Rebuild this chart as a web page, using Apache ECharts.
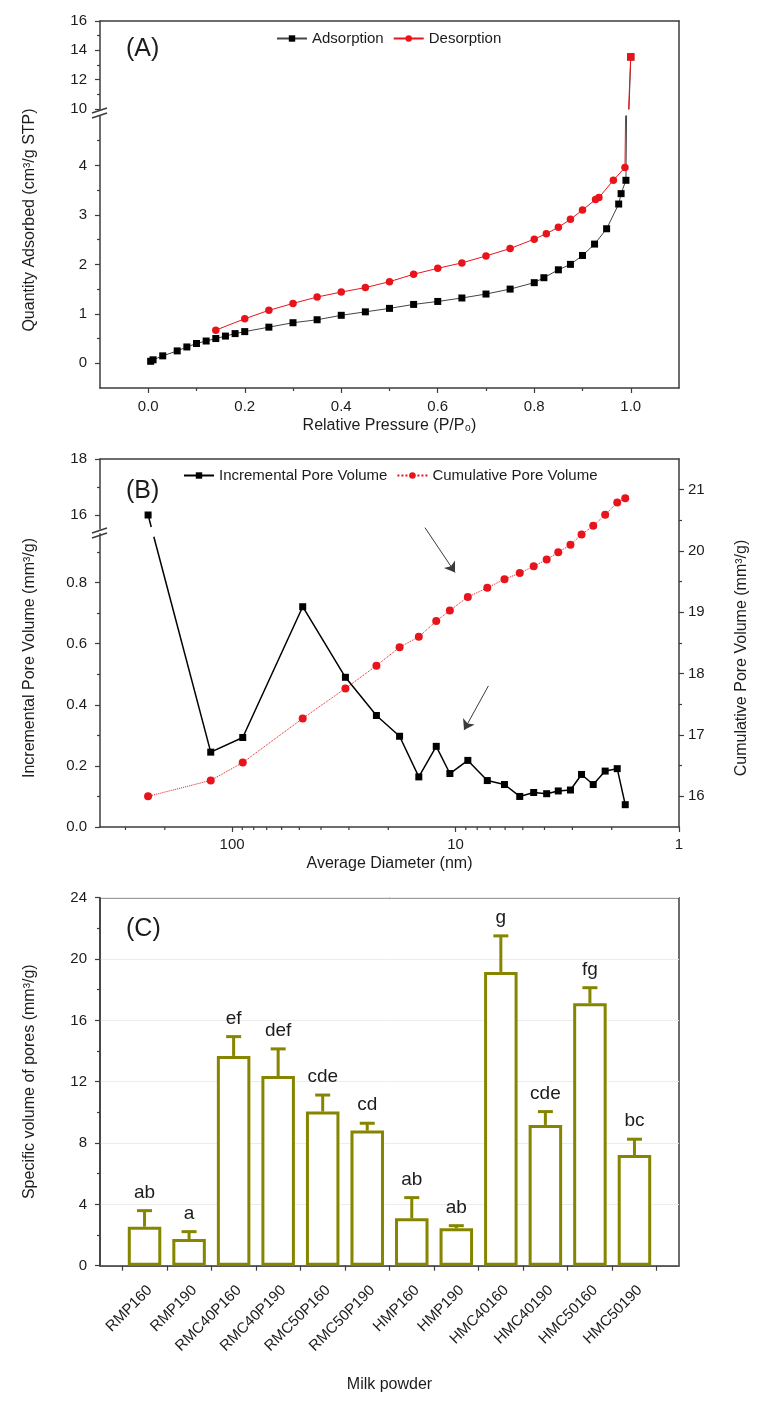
<!DOCTYPE html>
<html><head><meta charset="utf-8">
<script src="https://cdn.jsdelivr.net/npm/echarts@6/dist/echarts.min.js"></script>
<style>html,body{margin:0;padding:0;background:#fff}#c{width:759px;height:1401px}</style>
</head><body><div id="c"></div><script>
// ---------- Panel A data ----------
const adsP = [0.005,0.01,0.03,0.06,0.08,0.10,0.12,0.14,0.16,0.18,0.20,0.25,0.30,0.35,0.40,0.45,0.50,0.55,0.60,0.65,0.70,0.75,0.80,0.82,0.85,0.875,0.90,0.925,0.95,0.975,0.98,0.99,1.0];
const adsQ = [0.04,0.07,0.15,0.25,0.33,0.40,0.45,0.50,0.55,0.60,0.64,0.73,0.82,0.88,0.97,1.04,1.11,1.19,1.25,1.32,1.40,1.50,1.63,1.73,1.89,2.00,2.18,2.41,2.72,3.22,3.43,3.70,13.55];
const desP = [1.0,0.988,0.964,0.934,0.927,0.90,0.875,0.85,0.825,0.80,0.75,0.70,0.65,0.60,0.55,0.50,0.45,0.40,0.35,0.30,0.25,0.20,0.14];
const desQ = [13.55,3.96,3.70,3.35,3.31,3.10,2.91,2.75,2.62,2.51,2.32,2.17,2.03,1.92,1.80,1.65,1.53,1.44,1.34,1.21,1.07,0.90,0.67];
const aXLabels = [0,0.2,0.4,0.6,0.8,1.0];
const aXMinor = [0.1,0.3,0.5,0.7,0.9];
const aYLowLabels = [0,1,2,3,4];
const aYLowMinor = [0.5,1.5,2.5,3.5,4.5];

// ---------- Panel B data ----------
const diam = [237.6,124.6,89.6,48.3,31.1,22.6,17.8,14.6,12.2,10.6,8.81,7.21,6.04,5.16,4.47,3.91,3.47,3.06,2.73,2.42,2.14,1.89,1.74];
const incr = [16.0,0.245,0.293,0.721,0.490,0.365,0.297,0.164,0.264,0.175,0.218,0.152,0.139,0.100,0.113,0.109,0.118,0.121,0.172,0.139,0.183,0.191,0.073];
const cum  = [16.0,16.26,16.55,17.27,17.76,18.13,18.43,18.60,18.86,19.03,19.25,19.40,19.54,19.64,19.75,19.86,19.98,20.10,20.27,20.41,20.59,20.79,20.86];
const bYUpLabels = [16,18];
const bYUpMinor = [17];
const bYLowLabels = [0,0.2,0.4,0.6,0.8];
const bYLowMinor = [0.1,0.3,0.5,0.7,0.9];
const bYRightLabels = [16,17,18,19,20,21];
const bYRightMinor = [16.5,17.5,18.5,19.5,20.5];
const bXMinor = [2,3,4,5,6,7,8,9,20,30,40,50,60,70,80,90,200,300];
const arrowFrom = [[13.7,20.38],[7.13,17.80]];
const arrowTo   = [[10.05,19.65],[9.16,17.08]];

// ---------- Panel C data ----------
const categories = ['RMP160','RMP190','RMC40P160','RMC40P190','RMC50P160','RMC50P190','HMP160','HMP190','HMC40160','HMC40190','HMC50160','HMC50190'];
const vol = [2.54,1.74,13.68,12.37,10.05,8.81,3.09,2.44,19.16,9.18,17.12,7.22];
const err = [1.05,0.48,1.26,1.77,1.08,0.48,1.35,0.17,2.35,0.87,1.01,1.03];
const letters = ['ab','a','ef','def','cde','cd','ab','ab','g','cde','fg','bc'];

// ---------- styling / layout ----------
const F = '"Liberation Sans", Arial, sans-serif';
const AX = '#3c3c3c';
const TXT = '#1c1c1c';
const RED = '#e8141b';
const OLIVE = '#858500';
const L = 100, W = 579;
const aUpTop = 21, aUpH = 88, aLowTop = 116, aLowH = 272;
const bTop = 459, bH = 368, bUpH = 70, bLowTop = 533.7, bLowH = 293.3;
const cTop = 897.7, cH = 368;

const axLine = {show:true, onZero:false, lineStyle:{color:AX, width:1.5}};
const noLine = {show:false, onZero:false};
const lbl = (extra) => Object.assign({show:true, color:TXT, fontSize:15, fontFamily:F}, extra||{});
const tick = (extra) => Object.assign({show:true, length:5, lineStyle:{color:AX, width:1.2}}, extra||{});
const minorTick = (vals) => ({show:true, length:3, customValues:vals, lineStyle:{color:AX, width:1.2}});
const hideAll = {axisLine:noLine, axisTick:{show:false}, axisLabel:{show:false}, splitLine:{show:false}};
const nameStyle = {color:TXT, fontSize:16, fontFamily:F};

const pair = (xs, ys) => xs.map((x,i)=>[x, ys[i]]);

const chart = echarts.init(document.getElementById('c'), null, {renderer:'canvas'});

const gridBase = {left:L, width:W, outerBoundsMode:'none', containLabel:false};
const grid = [
  Object.assign({top:aUpTop, height:aUpH}, gridBase),                 //0 A upper
  Object.assign({top:aLowTop, height:aLowH}, gridBase),               //1 A lower
  Object.assign({top:aUpTop, height:aLowTop+aLowH-aUpTop}, gridBase), //2 A frame
  Object.assign({top:52, height:336}, gridBase),                      //3 A y name
  Object.assign({top:bTop, height:bUpH}, gridBase),                   //4 B upper
  Object.assign({top:bLowTop, height:bLowH}, gridBase),               //5 B lower
  Object.assign({top:bTop, height:bH}, gridBase),                     //6 B full
  Object.assign({top:489, height:338}, gridBase),                     //7 B names
  Object.assign({top:cTop, height:cH, show:true, borderColor:AX, borderWidth:1.5, backgroundColor:'transparent'}, gridBase) //8 C
];

const logX = {type:'log', min:1, max:390, inverse:true, logBase:10};

const xAxis = [
  {gridIndex:0, type:'value', min:-0.1, max:1.1, show:false},
  {gridIndex:1, type:'value', min:-0.1, max:1.1, position:'bottom',
    axisLine:axLine, axisTick:tick({customValues:aXLabels}), splitLine:{show:false},
    axisLabel:lbl({customValues:aXLabels, margin:11, formatter:v=>Number(v).toFixed(1)}),
    name:'Relative Pressure (P/P₀)', nameLocation:'middle', nameGap:30, nameTextStyle:nameStyle},
  Object.assign({gridIndex:1, type:'value', min:-0.1, max:1.1, position:'bottom'}, hideAll, {axisTick:minorTick(aXMinor)}),
  Object.assign({gridIndex:2, type:'value', min:0, max:1, position:'top'}, hideAll, {axisLine:axLine}),
  Object.assign({gridIndex:3, type:'value', min:0, max:1}, {show:false}),
  Object.assign({gridIndex:4}, logX, {show:false}),
  Object.assign({gridIndex:5}, logX, {show:false}),
  Object.assign({gridIndex:6}, logX, {position:'bottom', axisLine:axLine, axisTick:tick(), splitLine:{show:false},
    minorTick:{show:false}, axisLabel:lbl({margin:10, showMaxLabel:false}),
    name:'Average Diameter (nm)', nameLocation:'middle', nameGap:29, nameTextStyle:nameStyle}),
  Object.assign({gridIndex:6}, logX, {position:'top'}, hideAll, {axisLine:axLine}),
  {gridIndex:7, type:'value', min:0, max:1, show:false},
  {gridIndex:8, type:'value', min:0, max:categories.length+1, position:'bottom',
    axisLine:axLine, splitLine:{show:false},
    axisTick:tick({customValues:categories.map((c,i)=>i+0.5).concat([categories.length+0.5])}),
    axisLabel:lbl({customValues:categories.map((c,i)=>i+1), rotate:45, margin:17, verticalAlign:'top',
      formatter:v=>categories[Math.round(v)-1] || ''}),
    name:'Milk powder', nameLocation:'middle', nameGap:111, nameTextStyle:nameStyle}
];

const yAxis = [
  {gridIndex:0, type:'value', min:10, max:16, interval:2, position:'left',
    axisLine:axLine, axisTick:tick(), splitLine:{show:false},
    minorTick:{show:true, splitNumber:2, length:3, lineStyle:{color:AX, width:1.2}},
    axisLabel:lbl({margin:13})},
  {gridIndex:1, type:'value', min:-0.5, max:5, position:'left',
    axisLine:axLine, axisTick:tick({customValues:aYLowLabels}), splitLine:{show:false},
    axisLabel:lbl({customValues:aYLowLabels, margin:13})},
  Object.assign({gridIndex:1, type:'value', min:-0.5, max:5, position:'left'}, hideAll, {axisTick:minorTick(aYLowMinor)}),
  Object.assign({gridIndex:2, type:'value', min:0, max:1, position:'right'}, hideAll, {axisLine:axLine}),
  Object.assign({gridIndex:3, type:'value', min:0, max:1, position:'left'}, hideAll,
    {name:'Quantity Adsorbed (cm³/g STP)', nameLocation:'middle', nameGap:62, nameTextStyle:nameStyle}),
  {gridIndex:4, type:'value', min:15.5, max:18, position:'left',
    axisLine:axLine, axisTick:tick({customValues:bYUpLabels}), splitLine:{show:false},
    axisLabel:lbl({customValues:bYUpLabels, margin:13})},
  Object.assign({gridIndex:4, type:'value', min:15.5, max:18, position:'left'}, hideAll, {axisTick:minorTick(bYUpMinor)}),
  {gridIndex:5, type:'value', min:0, max:0.96, position:'left',
    axisLine:axLine, axisTick:tick({customValues:bYLowLabels}), splitLine:{show:false},
    axisLabel:lbl({customValues:bYLowLabels, margin:13, formatter:v=>Number(v).toFixed(1)})},
  Object.assign({gridIndex:5, type:'value', min:0, max:0.96, position:'left'}, hideAll, {axisTick:minorTick(bYLowMinor)}),
  {gridIndex:6, type:'value', min:15.5, max:21.5, position:'right',
    axisLine:axLine, axisTick:tick({customValues:bYRightLabels}), splitLine:{show:false},
    axisLabel:lbl({customValues:bYRightLabels, margin:9})},
  Object.assign({gridIndex:6, type:'value', min:15.5, max:21.5, position:'right'}, hideAll, {axisTick:minorTick(bYRightMinor)}),
  Object.assign({gridIndex:7, type:'value', min:0, max:1, position:'left'}, hideAll,
    {name:'Incremental Pore Volume (mm³/g)', nameLocation:'middle', nameGap:62, nameTextStyle:nameStyle}),
  Object.assign({gridIndex:7, type:'value', min:0, max:1, position:'right'}, hideAll,
    {name:'Cumulative Pore Volume (mm³/g)', nameLocation:'middle', nameGap:55, nameTextStyle:nameStyle}),
  {gridIndex:8, type:'value', min:0, max:24, interval:4, position:'left',
    axisLine:axLine, axisTick:tick(), splitLine:{show:true, lineStyle:{color:'#ececec', width:1}},
    minorTick:{show:true, splitNumber:2, length:3, lineStyle:{color:AX, width:1.2}},
    axisLabel:lbl({margin:13}),
    name:'Specific volume of pores (mm³/g)', nameLocation:'middle', nameGap:62, nameTextStyle:nameStyle}
];

const adsStyle = {type:'line', name:'Adsorption', symbol:'rect', symbolSize:7, clip:true,
  itemStyle:{color:'#000'}, lineStyle:{color:'#444', width:1}, z:3};
const desStyle = {type:'line', name:'Desorption', symbolSize:7.5, clip:true,
  symbol:(v,p)=>p.dataIndex===0?'rect':'circle',
  itemStyle:{color:RED}, lineStyle:{color:RED, width:1}, z:4};
const incStyle = {type:'line', name:'Incremental Pore Volume', symbol:'rect', symbolSize:7, clip:true,
  itemStyle:{color:'#000'}, lineStyle:{color:'#000', width:1.5}, z:4};

// points above the axis break go in the upper grid, the rest in the lower grid
const incPairs = pair(diam, incr);
const incUpper = incPairs.filter(p => p[1] >= 15.5);
const incLower = incPairs.filter(p => p[1] < 15.5);

const series = [
  Object.assign({xAxisIndex:0, yAxisIndex:0, data:pair(adsP, adsQ)}, adsStyle),
  Object.assign({xAxisIndex:1, yAxisIndex:1, data:pair(adsP, adsQ)}, adsStyle),
  Object.assign({xAxisIndex:0, yAxisIndex:0, data:pair(desP, desQ)}, desStyle),
  Object.assign({xAxisIndex:1, yAxisIndex:1, data:pair(desP, desQ)}, desStyle),
  Object.assign({xAxisIndex:5, yAxisIndex:5, data:incUpper}, incStyle),
  Object.assign({xAxisIndex:6, yAxisIndex:7, data:incLower}, incStyle),
  {type:'line', name:'Cumulative Pore Volume', xAxisIndex:7, yAxisIndex:9, data:pair(diam, cum),
    symbol:'circle', symbolSize:8, itemStyle:{color:RED}, lineStyle:{color:RED, width:1, type:'dotted'}, z:3,
    markLine:{silent:true, symbol:['none','arrow'], symbolSize:10, label:{show:false},
      lineStyle:{color:'#3a3a3a', width:1, type:'solid'},
      data:arrowFrom.map((a,i)=>[{coord:a},{coord:arrowTo[i]}])}},
  {type:'custom', name:'logMinorTicks', xAxisIndex:7, yAxisIndex:9, silent:true, clip:false,
    data:bXMinor.map(v=>[v, 15.5]),
    renderItem:(params, api)=>{
      const p = api.coord([api.value(0), api.value(1)]);
      return {type:'line', shape:{x1:p[0], y1:p[1], x2:p[0], y2:p[1]+3}, style:{stroke:AX, lineWidth:1.2}};
    }},
  {type:'bar', name:'Specific volume', xAxisIndex:10, yAxisIndex:13,
    data:vol.map((v,i)=>[i+1, v]), barWidth:33.5,
    itemStyle:{color:'#ffffff', borderColor:OLIVE, borderWidth:3}, z:2},
  {type:'custom', name:'errors', xAxisIndex:10, yAxisIndex:13, silent:true, clip:false, z:5,
    encode:{x:0, y:1},
    data:vol.map((v,i)=>[i+1, v, err[i]]),
    renderItem:(params, api)=>{
      const x = api.value(0), v = api.value(1), e = api.value(2);
      const top = api.coord([x, v]), cap = api.coord([x, v+e]);
      return {type:'group', children:[
        {type:'line', shape:{x1:top[0], y1:top[1], x2:cap[0], y2:cap[1]}, style:{stroke:OLIVE, lineWidth:3}},
        {type:'line', shape:{x1:cap[0]-7.5, y1:cap[1], x2:cap[0]+7.5, y2:cap[1]}, style:{stroke:OLIVE, lineWidth:3}},
        {type:'text', x:cap[0], y:cap[1]-18, style:{text:letters[params.dataIndex], fill:TXT,
          font:'19px "Liberation Sans", Arial, sans-serif', align:'center', verticalAlign:'middle'}}
      ]};
    }}
];

function breakMarks(yb){
  const st = {stroke:AX, lineWidth:1.5};
  return [
    {type:'line', shape:{x1:L-8, y1:yb+4, x2:L+7, y2:yb-1}, style:st, z:100},
    {type:'line', shape:{x1:L-8, y1:yb+9, x2:L+7, y2:yb+4}, style:st, z:100}
  ];
}

const option = {
  animation:false,
  backgroundColor:'#ffffff',
  textStyle:{fontFamily:F},
  title:[
    {text:'(A)', left:126, top:37, padding:0, textStyle:{fontSize:25, fontWeight:'normal', color:TXT, fontFamily:F}},
    {text:'(B)', left:126, top:479, padding:0, textStyle:{fontSize:25, fontWeight:'normal', color:TXT, fontFamily:F}},
    {text:'(C)', left:126, top:917, padding:0, textStyle:{fontSize:25, fontWeight:'normal', color:TXT, fontFamily:F}}
  ],
  legend:[
    {data:['Adsorption','Desorption'], left:276, top:31, itemWidth:30, itemHeight:8, itemGap:9, padding:0,
      textStyle:{fontSize:15, color:TXT, fontFamily:F}},
    {data:['Incremental Pore Volume','Cumulative Pore Volume'], left:183, top:468, itemWidth:30, itemHeight:8, itemGap:9, padding:0,
      textStyle:{fontSize:15, color:TXT, fontFamily:F}}
  ],
  grid, xAxis, yAxis, series,
  graphic:[].concat(breakMarks(aUpTop+aUpH), breakMarks(bTop+bUpH))
};
chart.setOption(option);

// Segment crossing the broken axis in panel B: straight in screen space, with a gap at the break
const lastUp = incUpper[incUpper.length-1], firstLow = incLower[0];
const pu = chart.convertToPixel({xAxisIndex:5, yAxisIndex:5}, lastUp);
const pl = chart.convertToPixel({xAxisIndex:6, yAxisIndex:7}, firstLow);
const atY = (y) => pu[0] + (pl[0]-pu[0]) * (y - pu[1]) / (pl[1] - pu[1]);
const yGap1 = bTop + bUpH - 2, yGap2 = bLowTop + 3;
chart.setOption({graphic:[].concat(breakMarks(aUpTop+aUpH), breakMarks(bTop+bUpH), [
  {type:'line', shape:{x1:pu[0], y1:pu[1], x2:atY(yGap1), y2:yGap1}, style:{stroke:'#000', lineWidth:1.5}, z:50},
  {type:'line', shape:{x1:atY(yGap2), y1:yGap2, x2:pl[0], y2:pl[1]}, style:{stroke:'#000', lineWidth:1.5}, z:50}
])});
</script></body></html>
